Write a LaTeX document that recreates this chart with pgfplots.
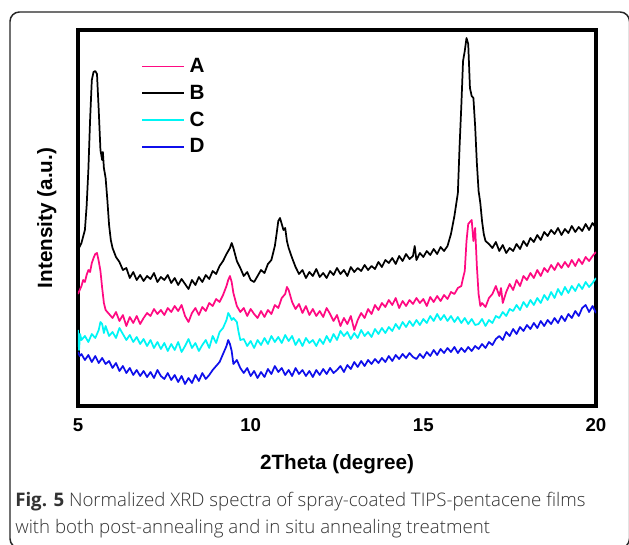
\documentclass[border=0pt]{standalone}
\usepackage{pgfplots}
\pgfplotsset{compat=1.18}
\usepackage{pgfplotstable}
\usepackage{fontspec}
\setmainfont{Liberation Sans}
\newfontfamily\capfont{Open Sans Light}
\newfontfamily\capbold{Open Sans}

\definecolor{cA}{RGB}{255,10,130}
\definecolor{cB}{RGB}{0,0,0}
\definecolor{cC}{RGB}{0,245,245}
\definecolor{cD}{RGB}{15,15,235}

% sample A
\pgfplotstableread{
x y
5.0 112
5.05 116
5.1 120
5.15 126
5.2 124
5.25 131
5.3 136
5.35 134
5.4 143
5.45 148
5.5 152
5.55 153
5.6 145
5.65 135
5.7 118
5.75 103
5.8 96
5.9 92
6.0 88
6.1 94
6.2 85
6.3 91
6.4 80
6.5 89
6.6 83
6.7 90
6.8 82
6.9 88
7.0 93
7.1 90
7.2 97
7.3 92
7.4 96
7.5 91
7.6 98
7.7 94
7.8 100
7.9 95
8.0 101
8.1 90
8.2 84
8.3 93
8.4 98
8.5 91
8.6 99
8.7 95
8.8 103
8.9 100
9.0 107
9.1 104
9.2 111
9.3 120
9.35 126
9.4 130
9.45 124
9.5 113
9.6 100
9.7 94
9.8 98
9.9 90
10.0 97
10.1 92
10.2 88
10.3 95
10.4 89
10.5 96
10.6 92
10.7 101
10.8 98
10.9 108
11.0 112
11.05 119
11.1 116
11.2 104
11.3 97
11.4 102
11.5 93
11.6 100
11.7 91
11.8 97
11.9 90
12.0 95
12.1 89
12.2 98
12.3 92
12.4 85
12.5 91
12.6 80
12.7 88
12.8 82
12.9 90
13.0 76
13.1 86
13.2 93
13.3 88
13.4 97
13.5 92
13.6 101
13.7 96
13.8 103
13.9 99
14.0 106
14.1 101
14.2 108
14.3 98
14.4 105
14.5 100
14.6 106
14.7 102
14.8 108
14.9 103
15.0 107
15.1 100
15.2 109
15.3 104
15.4 110
15.5 105
15.6 111
15.7 107
15.8 114
15.9 112
16.0 118
16.1 120
16.15 128
16.2 135
16.25 165
16.3 182
16.35 184
16.4 186
16.45 165
16.5 178
16.55 140
16.6 112
16.65 100
16.7 103
16.8 99
16.9 108
17.0 112
17.1 120
17.2 110
17.25 118
17.3 103
17.4 114
17.5 122
17.6 116
17.7 126
17.8 120
17.9 130
18.0 126
18.1 133
18.2 128
18.3 136
18.4 130
18.5 138
18.6 134
18.7 141
18.8 136
18.9 143
19.0 138
19.1 144
19.2 139
19.3 146
19.4 140
19.5 147
19.6 142
19.7 149
19.8 145
19.9 150
20.0 154
}\dataA

% sample B
\pgfplotstableread{
x y
5.0 156
5.1 163
5.2 176
5.25 200
5.3 236
5.35 286
5.4 326
5.45 334
5.5 335
5.55 332
5.6 296
5.65 256
5.7 246
5.72 254
5.75 238
5.8 228
5.85 206
5.9 181
5.95 166
6.0 158
6.1 149
6.2 144
6.3 136
6.4 138
6.5 128
6.6 134
6.7 126
6.8 131
6.9 125
7.0 130
7.1 127
7.2 133
7.3 124
7.4 129
7.5 126
7.6 131
7.7 123
7.8 128
7.9 121
8.0 127
8.1 122
8.2 117
8.3 126
8.4 121
8.5 129
8.6 124
8.7 131
8.8 127
8.9 135
9.0 132
9.1 140
9.2 145
9.3 152
9.4 158
9.45 163
9.5 158
9.6 145
9.7 138
9.8 130
9.9 134
10.0 126
10.1 124
10.2 130
10.3 136
10.4 133
10.5 142
10.6 146
10.7 160
10.75 172
10.8 185
10.85 188
10.9 182
10.95 176
11.0 178
11.05 165
11.1 158
11.2 148
11.3 139
11.4 132
11.5 136
11.6 128
11.7 134
11.8 130
11.9 137
12.0 129
12.1 133
12.2 128
12.3 135
12.4 131
12.5 138
12.6 132
12.7 136
12.8 130
12.9 139
13.0 134
13.1 138
13.2 135
13.3 141
13.4 136
13.5 140
13.6 137
13.7 144
13.8 139
13.9 146
14.0 143
14.1 148
14.2 142
14.3 150
14.4 145
14.5 152
14.6 147
14.7 150
14.75 160
14.8 146
14.9 153
15.0 149
15.1 155
15.2 151
15.3 157
15.4 152
15.5 159
15.6 155
15.7 160
15.8 172
15.9 190
16.0 213
16.05 260
16.1 300
16.15 345
16.2 355
16.25 368
16.3 362
16.35 318
16.4 310
16.45 308
16.5 280
16.55 243
16.6 215
16.65 203
16.7 185
16.75 172
16.8 165
16.9 162
17.0 158
17.1 164
17.2 155
17.3 161
17.4 153
17.5 158
17.6 155
17.7 162
17.8 157
17.9 165
18.0 160
18.1 168
18.2 164
18.3 171
18.4 166
18.5 174
18.6 170
18.7 176
18.8 172
18.9 178
19.0 171
19.1 177
19.2 173
19.3 180
19.4 174
19.5 179
19.6 175
19.7 182
19.8 176
19.9 183
20.0 178
}\dataB

% sample C
\pgfplotstableread{
x y
5.0 76
5.03 56
5.06 72
5.1 66
5.2 70
5.3 64
5.4 72
5.5 68
5.6 76
5.65 84
5.7 82
5.75 73
5.8 80
5.9 70
6.0 74
6.1 68
6.2 78
6.3 72
6.4 66
6.5 71
6.6 64
6.7 69
6.8 62
6.9 67
7.0 60
7.1 66
7.2 58
7.3 64
7.4 57
7.5 63
7.6 55
7.7 62
7.8 56
7.9 64
8.0 54
8.1 60
8.2 67
8.3 58
8.4 63
8.5 55
8.6 61
8.7 66
8.8 58
8.9 70
9.0 63
9.1 74
9.2 78
9.3 86
9.35 93
9.4 90
9.45 86
9.5 88
9.55 86
9.6 84
9.65 74
9.7 66
9.8 67
9.9 60
10.0 65
10.1 58
10.2 66
10.3 61
10.4 68
10.5 62
10.6 70
10.7 64
10.8 69
10.9 63
11.0 71
11.1 65
11.2 70
11.3 61
11.4 67
11.5 60
11.6 68
11.7 63
11.8 66
11.9 60
12.0 67
12.1 62
12.2 70
12.3 64
12.4 72
12.5 66
12.6 75
12.7 70
12.8 74
12.9 67
13.0 73
13.1 68
13.2 76
13.3 70
13.4 74
13.5 69
13.6 77
13.7 72
13.8 78
13.9 73
14.0 79
14.1 75
14.2 82
14.3 77
14.4 84
14.5 79
14.6 85
14.7 80
14.8 86
14.9 81
15.0 87
15.1 83
15.2 90
15.3 85
15.4 92
15.5 86
15.6 91
15.7 85
15.8 90
15.9 84
16.0 89
16.1 83
16.2 88
16.3 82
16.4 87
16.5 81
16.6 82
16.7 87
16.8 80
16.9 86
17.0 83
17.1 90
17.2 88
17.3 94
17.4 90
17.5 97
17.6 95
17.7 101
17.8 96
17.9 104
18.0 99
18.1 106
18.2 101
18.3 108
18.4 103
18.5 111
18.6 106
18.7 114
18.8 108
18.9 117
19.0 111
19.1 119
19.2 113
19.3 120
19.4 115
19.5 122
19.6 117
19.7 124
19.8 119
19.9 123
20.0 128
}\dataC

% sample D
\pgfplotstableread{
x y
5.0 54
5.05 50
5.1 52
5.2 46
5.3 51
5.4 44
5.5 50
5.6 43
5.7 48
5.8 42
5.9 45
6.0 38
6.1 43
6.2 35
6.3 40
6.4 33
6.5 38
6.6 31
6.7 36
6.8 30
6.9 35
7.0 29
7.1 34
7.2 28
7.3 36
7.4 30
7.5 27
7.6 33
7.7 26
7.8 31
7.9 24
8.0 30
8.1 22
8.2 28
8.3 23
8.4 31
8.5 25
8.6 33
8.7 27
8.8 31
8.9 36
9.0 40
9.1 44
9.2 52
9.3 60
9.35 66
9.4 62
9.45 55
9.5 42
9.6 46
9.7 38
9.8 33
9.9 38
10.0 30
10.1 35
10.2 28
10.3 34
10.4 29
10.5 37
10.6 32
10.7 40
10.8 34
10.9 38
11.0 31
11.1 36
11.2 30
11.3 38
11.4 32
11.5 36
11.6 30
11.7 35
11.8 29
11.9 36
12.0 31
12.1 37
12.2 32
12.3 38
12.4 33
12.5 36
12.6 40
12.7 34
12.8 41
12.9 37
13.0 44
13.1 39
13.2 45
13.3 40
13.4 46
13.5 42
13.6 47
13.7 43
13.8 48
13.9 44
14.0 50
14.1 45
14.2 51
14.3 47
14.4 52
14.5 48
14.6 53
14.7 49
14.8 47
14.9 52
15.0 48
15.1 54
15.2 50
15.3 56
15.4 51
15.5 57
15.6 53
15.7 58
15.8 54
15.9 59
16.0 53
16.1 58
16.2 54
16.3 59
16.4 55
16.5 60
16.6 57
16.7 62
16.8 58
16.9 64
17.0 61
17.1 67
17.2 70
17.3 66
17.4 74
17.5 70
17.6 77
17.7 72
17.8 79
17.9 75
18.0 81
18.1 77
18.2 83
18.3 78
18.4 85
18.5 80
18.6 86
18.7 82
18.8 88
18.9 83
19.0 90
19.1 85
19.2 92
19.3 88
19.4 95
19.5 90
19.6 98
19.7 101
19.8 94
19.9 100
20.0 93
}\dataD

\begin{document}
\begin{tikzpicture}[x=0.75pt,y=0.75pt]
\clip (0,0) rectangle (629,-544);
\fill[white] (0,0) rectangle (629,-544);
\draw[line width=1.1pt, rounded corners=7pt, black!85] (10,-12) rectangle (629.5,-548);

\begin{axis}[
  at={(58.5pt,-304.5pt)}, anchor=south west,
  scale only axis, width=388.5pt, height=282pt,
  xmin=5, xmax=20, ymin=0, ymax=376,
  xtick={5,10,15,20}, ytick=\empty,
  major tick length=0pt,
  axis line style={line width=2.6pt},
  /pgf/number format/assume math mode=true,
  xticklabel style={font=\bfseries\fontsize{14pt}{16pt}\selectfont, inner sep=0pt, yshift=-9pt},
  xlabel={2Theta (degree)},
  xlabel style={font=\bfseries\fontsize{15.5pt}{18pt}\selectfont, at={(axis description cs:0.5,0)}, anchor=north, inner sep=0pt, yshift=-36pt},
  ylabel={Intensity (a.u.)},
  ylabel style={font=\bfseries\fontsize{15.5pt}{18pt}\selectfont, at={(axis description cs:-0.041,0.5)}, anchor=south, inner sep=0pt},
  legend style={at={(axis description cs:0.114,0.932)}, anchor=north west, draw=none, fill=none,
    font=\bfseries\fontsize{15.5pt}{18pt}\selectfont, row sep=7.8pt, nodes={inner sep=0pt}},
  legend cell align=left,
  legend image code/.code={\draw[#1, line width=1.3pt] (0pt,0pt) -- (31pt,0pt);},
  every axis plot/.append style={line width=1.3pt, line join=round},
]
\addplot[cA] table {\dataA};
\addplot[cB] table {\dataB};
\addplot[cC] table {\dataC};
\addplot[cD] table {\dataD};
\legend{\hspace{4pt}A,\hspace{4pt}B,\hspace{4pt}C,\hspace{4pt}D}
\end{axis}

\node[anchor=base west, inner sep=0pt, text=black!80, font=\capfont\fontsize{14pt}{17pt}\selectfont] at (15,-506)
  {{\capbold\bfseries Fig. 5} Normalized XRD spectra of spray-coated TIPS-pentacene films};
\node[anchor=base west, inner sep=0pt, text=black!80, font=\capfont\fontsize{14pt}{17pt}\selectfont] at (15,-533)
  {with both post-annealing and in situ annealing treatment};
\end{tikzpicture}
\end{document}
